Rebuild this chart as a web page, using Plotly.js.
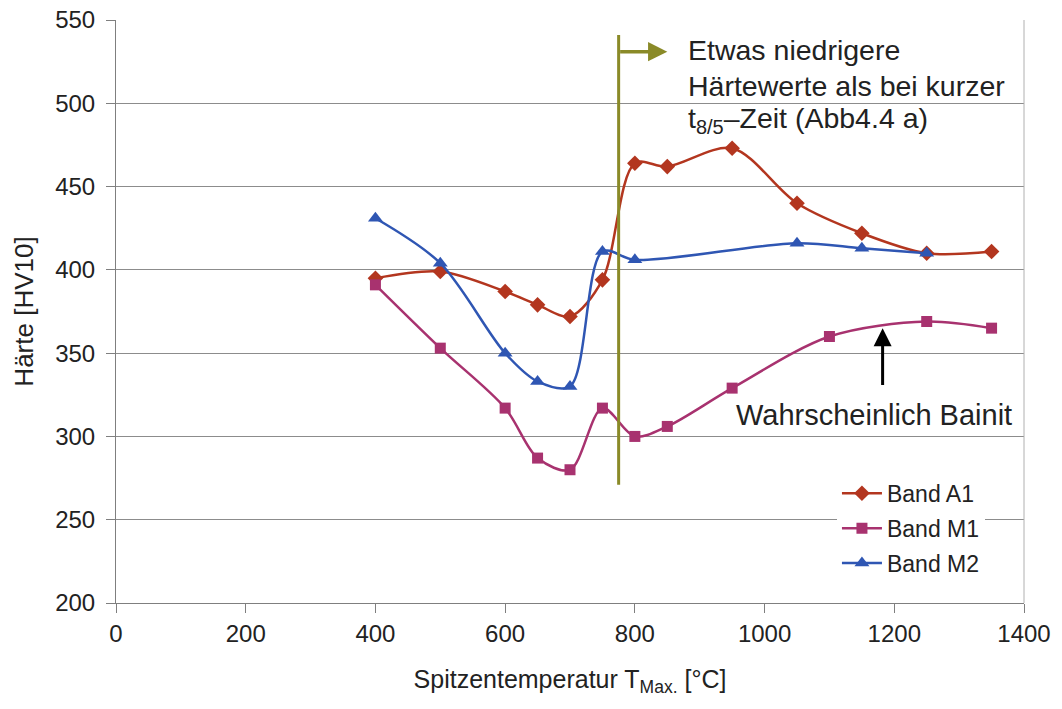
<!DOCTYPE html>
<html>
<head>
<meta charset="utf-8">
<script src="https://cdn.plot.ly/plotly-3.0.1.min.js"></script>
<style>html,body{margin:0;padding:0;background:#fff;}#chart{width:1062px;height:709px;}</style>
</head>
<body>
<div id="chart"></div>
<script>
// Data
const xA1 = [400, 500, 600, 650, 700, 750, 800, 850, 950, 1050, 1150, 1250, 1350];
const yA1 = [395, 399, 387, 379, 372, 394, 464, 462, 473, 440, 422, 410, 411];

const xM1 = [400, 500, 600, 650, 700, 750, 800, 850, 950, 1100, 1250, 1350];
const yM1 = [391, 353, 317, 287, 280, 317, 300, 306, 329, 360, 369, 365];

const xM2 = [400, 500, 600, 650, 700, 750, 800, 1050, 1150, 1250];
const yM2 = [431, 404, 350, 333, 330, 411, 406, 416, 413, 410];

const seriesNames = ["Band A1", "Band M1", "Band M2"];
const xTicks = [0, 200, 400, 600, 800, 1000, 1200, 1400];
const yTicks = [200, 250, 300, 350, 400, 450, 500, 550];

const noteLines = ["Etwas niedrigere", "Härtewerte als bei kurzer", "t<sub>8/5</sub>–Zeit (Abb4.4 a)"];
const noteLineY = [532, 510.5, 490];
const bainitText = "Wahrscheinlich Bainit";

// Annotation anchors (data coordinates)
const markerLineX = 775;
const markerLineY = [271, 541];
const markerArrowY = 531;
const markerArrowTipX = 850;
const bainitArrowX = 1182;
const bainitArrowY = [330, 365];

const FONT = "Liberation Sans, Arial, sans-serif";
const TXT = "#222222";

const traces = [
  {x: xA1, y: yA1, name: seriesNames[0], legendgroup: "a", type: "scatter", mode: "lines+markers",
   line: {color: "#B3361F", width: 2.5, shape: "spline", smoothing: 0.9},
   marker: {symbol: "diamond", size: 12, color: "#B3361F"}},
  {x: xM1, y: yM1, name: seriesNames[1], legendgroup: "b", type: "scatter", mode: "lines+markers",
   line: {color: "#A8326F", width: 2.5, shape: "spline", smoothing: 0.9},
   marker: {symbol: "square", size: 11, color: "#A8326F"}},
  {x: xM2, y: yM2, name: seriesNames[2], legendgroup: "c", type: "scatter", mode: "lines+markers",
   line: {color: "#2F56B3", width: 2.5, shape: "spline", smoothing: 0.9},
   marker: {symbol: "triangle-up", size: 13, color: "#2F56B3"}}
];

const annotations = [
  {x: markerArrowTipX, y: markerArrowY, ax: markerLineX, ay: markerArrowY, xref: "x", yref: "y", axref: "x", ayref: "y",
   text: "", showarrow: true, arrowhead: 2, arrowsize: 1.1, arrowwidth: 3.5, arrowcolor: "#8A8A28"},
  {x: bainitArrowX, y: bainitArrowY[1], ax: bainitArrowX, ay: bainitArrowY[0], xref: "x", yref: "y", axref: "x", ayref: "y",
   text: "", showarrow: true, arrowhead: 2, arrowsize: 1.2, arrowwidth: 3, arrowcolor: "#000000"},
  {x: 953, y: 313, xref: "x", yref: "y", xanchor: "left", yanchor: "middle", showarrow: false,
   text: bainitText, font: {family: FONT, size: 29, color: TXT}}
];
noteLines.forEach((t, i) => annotations.push({
  x: 879, y: noteLineY[i], xref: "x", yref: "y", xanchor: "left", yanchor: "middle", showarrow: false,
  text: t, font: {family: FONT, size: 28.5, color: TXT}
}));

const layout = {
  width: 1062, height: 709,
  margin: {l: 116, r: 38, t: 20, b: 106},
  paper_bgcolor: "#ffffff", plot_bgcolor: "#ffffff",
  font: {family: FONT, color: TXT, size: 24},
  showlegend: true,
  legend: {x: 0.794, y: 0.225, xanchor: "left", yanchor: "top",
    bgcolor: "#ffffff", borderwidth: 0, font: {family: FONT, size: 23, color: TXT},
    tracegroupgap: 2, itemwidth: 40},
  xaxis: {range: [0, 1400], tickvals: xTicks, ticktext: xTicks.map(String),
    ticks: "outside", ticklen: 9, tickcolor: "#7f7f7f", tickwidth: 1,
    showline: true, linecolor: "#7f7f7f", linewidth: 1, showgrid: false, zeroline: false,
    tickfont: {family: FONT, size: 24, color: TXT},
    title: {text: "Spitzentemperatur T<sub>Max.</sub> [°C]", font: {family: FONT, size: 25, color: TXT}, standoff: 24}},
  yaxis: {range: [200, 550], tickvals: yTicks, ticktext: yTicks.map(String),
    ticks: "outside", ticklen: 9, tickcolor: "#7f7f7f", tickwidth: 1,
    showline: true, linecolor: "#7f7f7f", linewidth: 1,
    showgrid: true, gridcolor: "#8c8c8c", gridwidth: 1, zeroline: false,
    tickfont: {family: FONT, size: 24, color: TXT}, ticklabelstandoff: 6,
    title: {text: "Härte [HV10]", font: {family: FONT, size: 26, color: TXT}, standoff: 14}},
  shapes: [
    {type: "line", xref: "paper", yref: "paper", x0: 1, x1: 1, y0: 0, y1: 1,
     line: {color: "#b0b0b0", width: 1}},
    {type: "line", xref: "x", yref: "y", x0: markerLineX, x1: markerLineX, y0: markerLineY[0], y1: markerLineY[1],
     line: {color: "#8A8A28", width: 3}}
  ],
  annotations: annotations
};

Plotly.newPlot("chart", traces, layout, {displayModeBar: false, staticPlot: true});
</script>
</body>
</html>
